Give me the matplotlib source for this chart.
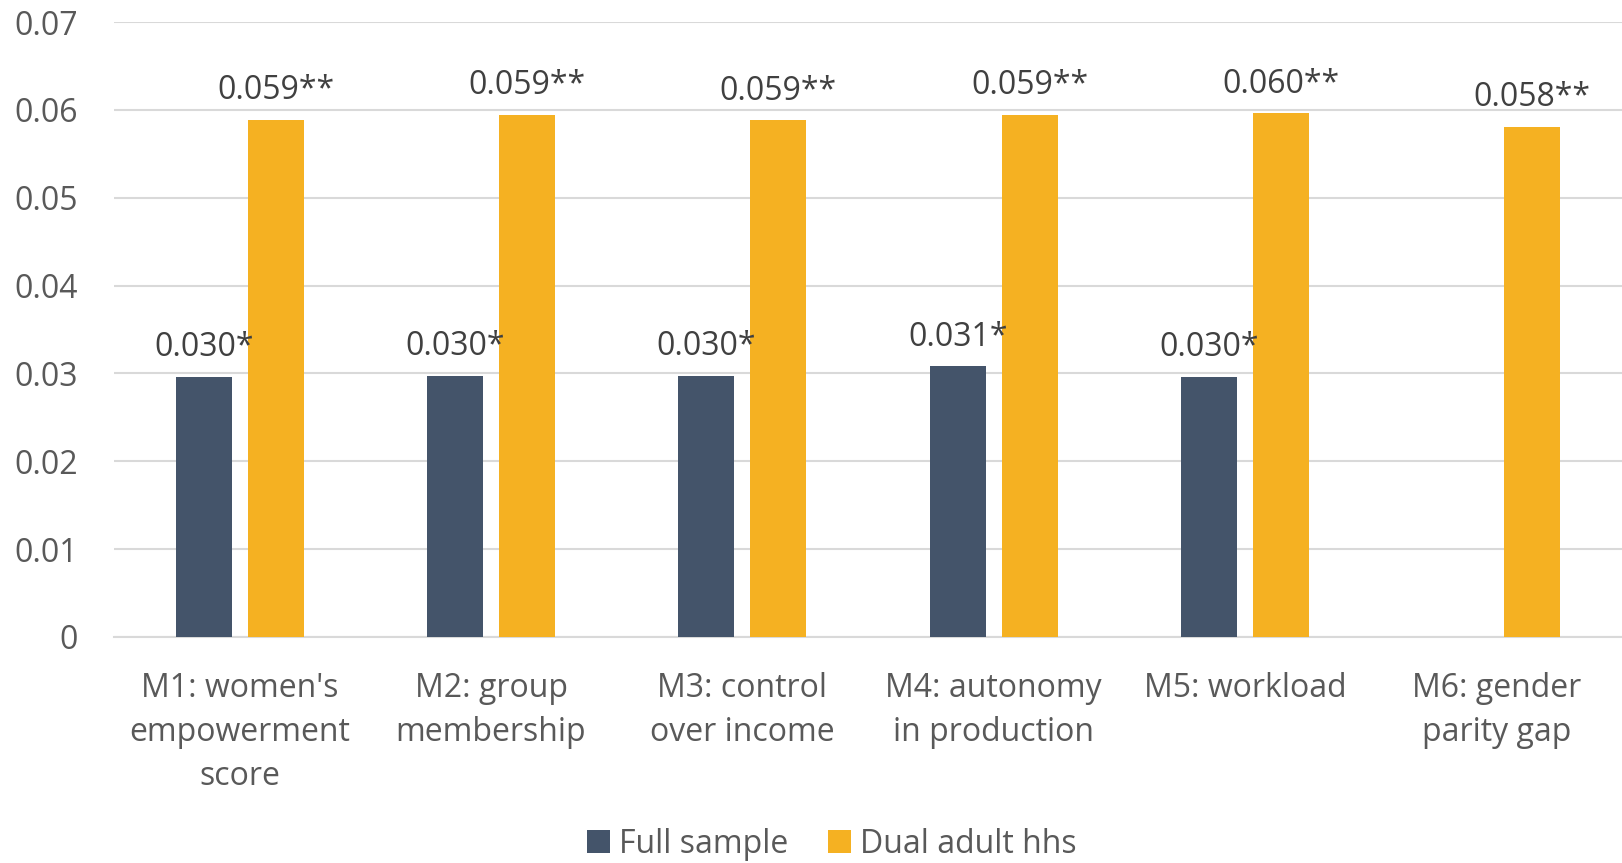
import matplotlib
matplotlib.use("Agg")
import matplotlib.pyplot as plt
from matplotlib.patches import Patch
import numpy as np

plt.rcParams['font.family'] = ['Open Sans', 'DejaVu Sans']

# Coefficients by model specification
categories = ["M1: women's\nempowerment\nscore", "M2: group\nmembership",
              "M3: control\nover income", "M4: autonomy\nin production",
              "M5: workload", "M6: gender\nparity gap"]
full_sample = [0.0296, 0.0297, 0.0297, 0.0308, 0.0296, None]
full_stars = ["*", "*", "*", "*", "*", ""]
dual_adult = [0.0589, 0.0594, 0.0588, 0.0594, 0.0596, 0.0581]
dual_stars = ["**", "**", "**", "**", "**", "**"]
yticks = [0, 0.01, 0.02, 0.03, 0.04, 0.05, 0.06, 0.07]
ytick_labels = ["0", "0.01", "0.02", "0.03", "0.04", "0.05", "0.06", "0.07"]

DARK = "#44546A"
GOLD = "#F5B122"
TEXT = "#404040"
AXTEXT = "#595959"
GRID = "#D9D9D9"

fig = plt.figure(figsize=(16.22, 8.63), dpi=100)
ax = fig.add_axes([0.0703, 0.2619, 0.9297, 0.7126])

x = np.arange(len(categories))
w = 0.223
off = 0.143

fs_x = [v if v is not None else 0 for v in full_sample]
ax.bar(x - off, fs_x, width=w, color=DARK, zorder=3)
ax.bar(x + off, dual_adult, width=w, color=GOLD, zorder=3)

for xi, v, s in zip(x, full_sample, full_stars):
    if v is None:
        continue
    ax.annotate(f"{v:.3f}{s}", (xi - off, v), xytext=(0, 15), textcoords="offset points",
                ha="center", va="baseline", fontsize=23, color=TEXT)
for xi, v, s in zip(x, dual_adult, dual_stars):
    ax.annotate(f"{v:.3f}{s}", (xi + off, v), xytext=(0, 15), textcoords="offset points",
                ha="center", va="baseline", fontsize=23, color=TEXT)

ax.set_xlim(-0.5, len(categories) - 0.5)
ax.set_ylim(0, 0.07)
ax.set_yticks(yticks)
ax.set_yticklabels(ytick_labels, fontsize=23, color=AXTEXT)
ax.set_xticks(x)
ax.set_xticklabels(categories, fontsize=23, color=AXTEXT, linespacing=1.45)
ax.tick_params(axis="y", length=0, pad=26)
ax.tick_params(axis="x", length=0, pad=25)
ax.yaxis.grid(True, color=GRID, linewidth=1.5, zorder=0)
ax.set_axisbelow(True)
for sp in ["top", "right", "left"]:
    ax.spines[sp].set_visible(False)
ax.spines["bottom"].set_color(GRID)
ax.spines["bottom"].set_linewidth(1.5)

handles = [Patch(facecolor=DARK, label="Full sample"), Patch(facecolor=GOLD, label="Dual adult hhs")]
fig.legend(handles=handles, loc="center", bbox_to_anchor=(0.513, 0.022), ncol=2, frameon=False,
           fontsize=23, labelcolor=AXTEXT, handlelength=0.7, handleheight=0.7,
           handletextpad=0.3, columnspacing=1.25, borderpad=0.1)

fig.savefig("out.png", dpi=100)
